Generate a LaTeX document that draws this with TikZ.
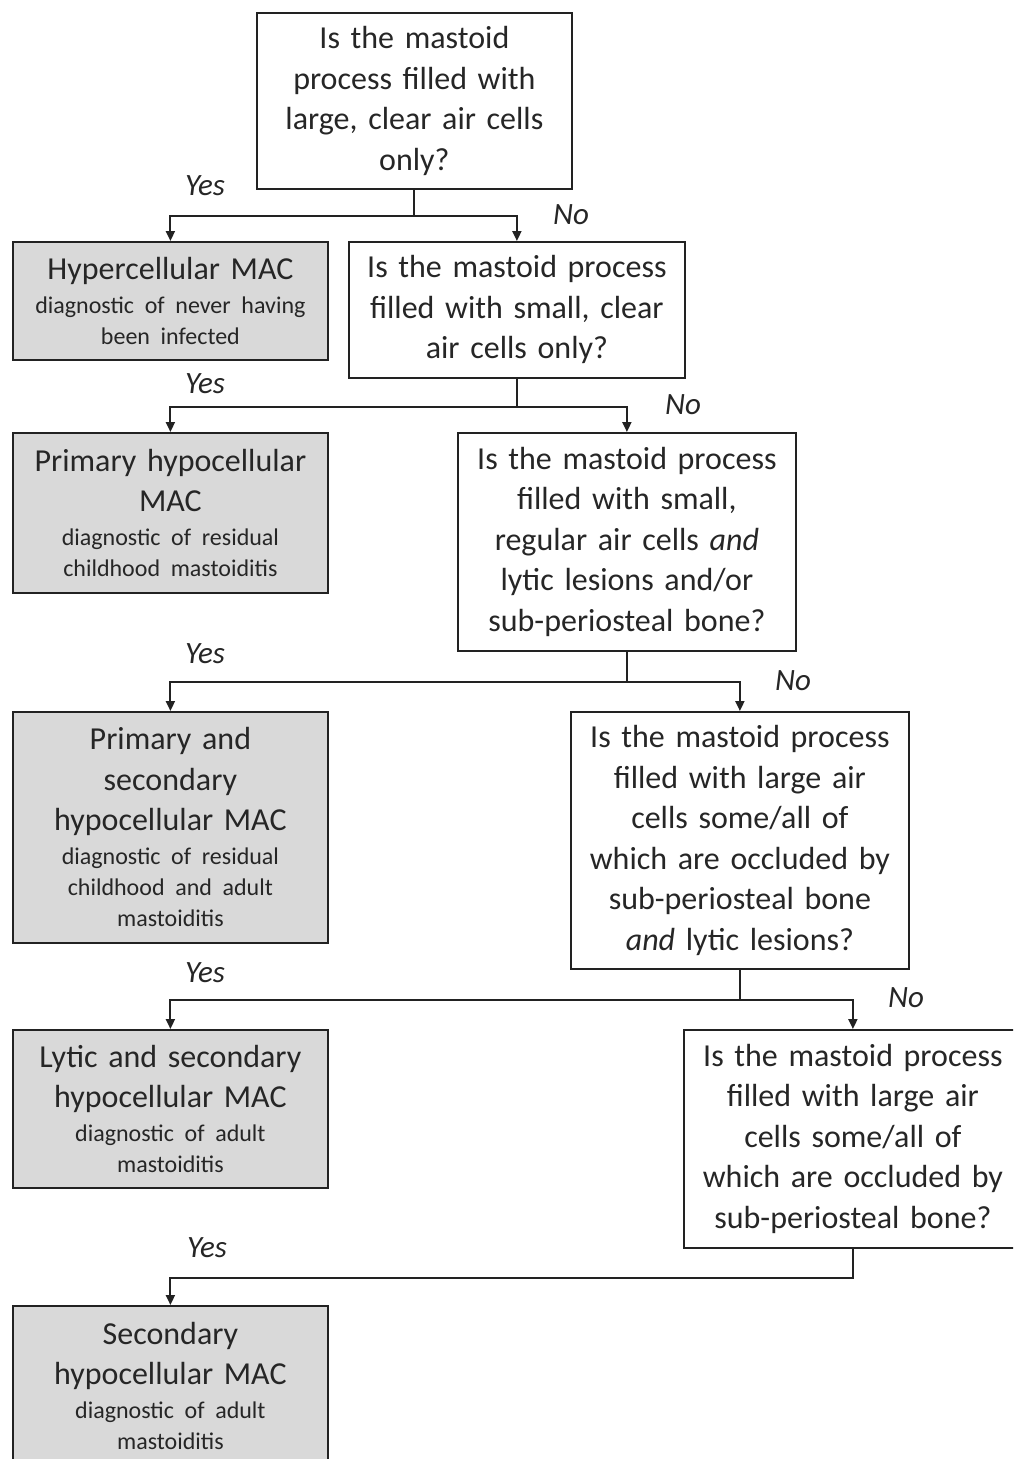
\documentclass[tikz,border=0pt]{standalone}
\usepackage{fontspec}
\setmainfont{Carlito}
\usetikzlibrary{arrows.meta}
\definecolor{ln}{HTML}{222222}
\definecolor{tx}{HTML}{262626}
\definecolor{gb}{HTML}{D9D9D9}
\newcommand{\qfont}{\fontsize{32}{40.5}\selectfont}
\newcommand{\dfont}{\fontsize{24}{31}\selectfont}
\newcommand{\lfont}{\fontsize{31}{36}\selectfont\itshape}

\begin{document}
\begin{tikzpicture}[x=1pt, y=-1pt,
    box/.style 2 args={draw=ln, line width=1.8pt, inner sep=0pt, anchor=north west,
        align=center, text=tx, font=\qfont, text width=#1, minimum height=#2},
    qbox/.style 2 args={box={#1}{#2}, fill=white},
    abox/.style 2 args={box={#1}{#2}, fill=gb},
    arr/.style={-{Triangle[length=10pt,width=9pt]}, line width=2pt, draw=ln},
    yn/.style={font=\lfont, text=tx, inner sep=0pt}]
    \path[use as bounding box, clip] (0,0) rectangle (1013,1459);
    \fill[white] (0,0) rectangle (1013,1459);

    % Questions
    \node[qbox={315pt}{176pt}] (q1) at (256,12)
        {Is the mastoid\\ process filled with\\ large, clear air cells\\ only?\par};
    \node[qbox={336pt}{136pt}] (q2) at (348,241)
        {Is the mastoid process\\ filled with small, clear\\ air cells only?\par};
    \node[qbox={338pt}{218pt}] (q3) at (457,432)
        {Is the mastoid process\\ filled with small,\\ regular air cells \textit{and}\\ lytic lesions and/or\\ sub-periosteal bone?\par};
    \node[qbox={338pt}{257pt}] (q4) at (570,711)
        {Is the mastoid process\\ filled with large air\\ cells some/all of\\ which are occluded by\\ sub-periosteal bone\\ \textit{and} lytic lesions?\par};
    \node[qbox={338pt}{218pt}] (q5) at (683,1029)
        {Is the mastoid process\\ filled with large air\\ cells some/all of\\ which are occluded by\\ sub-periosteal bone?\par};

    % Outcomes
    \node[abox={315pt}{118pt}] (a1) at (12,241)
        {Hypercellular MAC\par\vspace{3pt}\dfont diagnostic of never having\\ been infected\par};
    \node[abox={315pt}{160pt}] (a2) at (12,432)
        {Primary hypocellular\\ MAC\par\vspace{3pt}\dfont diagnostic of residual\\ childhood mastoiditis\par};
    \node[abox={315pt}{231pt}] (a3) at (12,711)
        {Primary and\\ secondary\\ hypocellular MAC\par\vspace{3pt}\dfont diagnostic of residual\\ childhood and adult\\ mastoiditis\par};
    \node[abox={315pt}{158pt}] (a4) at (12,1029)
        {Lytic and secondary\\ hypocellular MAC\par\vspace{3pt}\dfont diagnostic of adult\\ mastoiditis\par};
    \node[abox={315pt}{160pt}] (a5) at (12,1305)
        {Secondary\\ hypocellular MAC\par\vspace{3pt}\dfont diagnostic of adult\\ mastoiditis\par};

    % Connectors
    \draw[arr] (q1.south) -- ++(0,26) -| (a1.north);
    \draw[arr] (q1.south) -- ++(0,26) -| (q2.north);
    \draw[arr] (q2.south) -- ++(0,28) -| (a2.north);
    \draw[arr] (q2.south) -- ++(0,28) -| (q3.north);
    \draw[arr] (q3.south) -- ++(0,30) -| (a3.north);
    \draw[arr] (q3.south) -- ++(0,30) -| (q4.north);
    \draw[arr] (q4.south) -- ++(0,30) -| (a4.north);
    \draw[arr] (q4.south) -- ++(0,30) -| (q5.north);
    \draw[arr] (q5.south) -- ++(0,29) -| (a5.north);

    % Labels
    \node[yn] (y1) at (205,186) {Yes};
    \node[yn] (n1) at (571,215) {No};
    \node[yn] (y2) at (205,384) {Yes};
    \node[yn] (n2) at (683,405) {No};
    \node[yn] (y3) at (205,654) {Yes};
    \node[yn] (n3) at (793,681) {No};
    \node[yn] (y4) at (205,973) {Yes};
    \node[yn] (n4) at (906,998) {No};
    \node[yn] (y5) at (207,1248) {Yes};
\end{tikzpicture}
\end{document}
